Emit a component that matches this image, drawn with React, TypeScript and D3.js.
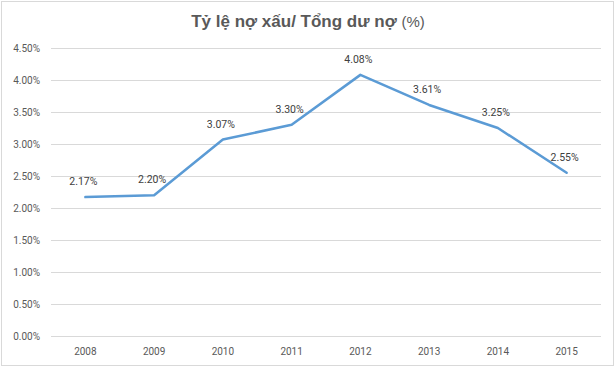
import React, { useEffect, useRef } from 'react';
import * as d3 from 'd3';

const years = ['2008', '2009', '2010', '2011', '2012', '2013', '2014', '2015'];
const ratios = [2.17, 2.2, 3.07, 3.3, 4.08, 3.61, 3.25, 2.55];
const yTicks = [0, 0.5, 1, 1.5, 2, 2.5, 3, 3.5, 4, 4.5];

const W = 616;
const H = 367;

const App: React.FC = () => {
  const ref = useRef<SVGSVGElement | null>(null);

  useEffect(() => {
    if (!ref.current) return;
    const svg = d3.select(ref.current);
    svg.selectAll('*').remove();

    const margin = { top: 48, right: 15, bottom: 31, left: 51 };

    svg.append('rect')
      .attr('x', 1.5).attr('y', 1.5)
      .attr('width', W - 4).attr('height', H - 3)
      .attr('fill', '#fff')
      .attr('stroke', '#d9d9d9');

    const x = d3.scaleBand<string>()
      .domain(years)
      .range([margin.left, W - margin.right]);

    const y = d3.scaleLinear()
      .domain([0, 4.5])
      .range([H - margin.bottom, margin.top]);

    // grid
    svg.append('g')
      .selectAll('line')
      .data(yTicks)
      .join('line')
      .attr('x1', margin.left).attr('x2', W - margin.right)
      .attr('y1', d => Math.round(y(d)) + 0.5)
      .attr('y2', d => Math.round(y(d)) + 0.5)
      .attr('stroke', '#d9d9d9');

    // y labels
    svg.append('g')
      .selectAll('text')
      .data(yTicks)
      .join('text')
      .attr('x', 40)
      .attr('y', d => y(d))
      .attr('dy', '0.35em')
      .attr('text-anchor', 'end')
      .attr('font-family', 'Roboto, sans-serif')
      .attr('font-size', 10)
      .attr('fill', '#595959')
      .text(d => d.toFixed(2) + '%');

    // x labels
    svg.append('g')
      .selectAll('text')
      .data(years)
      .join('text')
      .attr('x', d => (x(d) ?? 0) + x.bandwidth() / 2)
      .attr('y', 355)
      .attr('text-anchor', 'middle')
      .attr('font-family', 'Roboto, sans-serif')
      .attr('font-size', 10)
      .attr('fill', '#595959')
      .text(d => d);

    const line = d3.line<number>()
      .x((_, i) => (x(years[i]) ?? 0) + x.bandwidth() / 2)
      .y(d => y(d));

    svg.append('path')
      .datum(ratios)
      .attr('d', line)
      .attr('fill', 'none')
      .attr('stroke', '#5b9bd5')
      .attr('stroke-width', 2.5)
      .attr('stroke-linejoin', 'round')
      .attr('stroke-linecap', 'round');

    // data labels
    svg.append('g')
      .selectAll('text')
      .data(ratios)
      .join('text')
      .attr('x', (_, i) => (x(years[i]) ?? 0) + x.bandwidth() / 2 - 2)
      .attr('y', d => y(d) - 12)
      .attr('text-anchor', 'middle')
      .attr('font-family', 'Roboto, sans-serif')
      .attr('font-size', 10.5)
      .attr('fill', '#404040')
      .text(d => d.toFixed(2) + '%');

    const title = svg.append('text')
      .attr('x', W / 2)
      .attr('y', 27)
      .attr('text-anchor', 'middle')
      .attr('font-family', '"Liberation Sans", Arial, sans-serif')
      .attr('fill', '#595959');
    title.append('tspan')
      .attr('font-size', 17)
      .attr('font-weight', 'bold')
      .text('Tỷ lệ nợ xấu/ Tổng dư nợ ');
    title.append('tspan')
      .attr('font-size', 15)
      .text('(%)');
  }, []);

  return (
    <svg
      ref={ref}
      width={W}
      height={H}
      style={{ position: 'absolute', left: 0, top: 0, background: '#fff' }}
    />
  );
};

export default App;
